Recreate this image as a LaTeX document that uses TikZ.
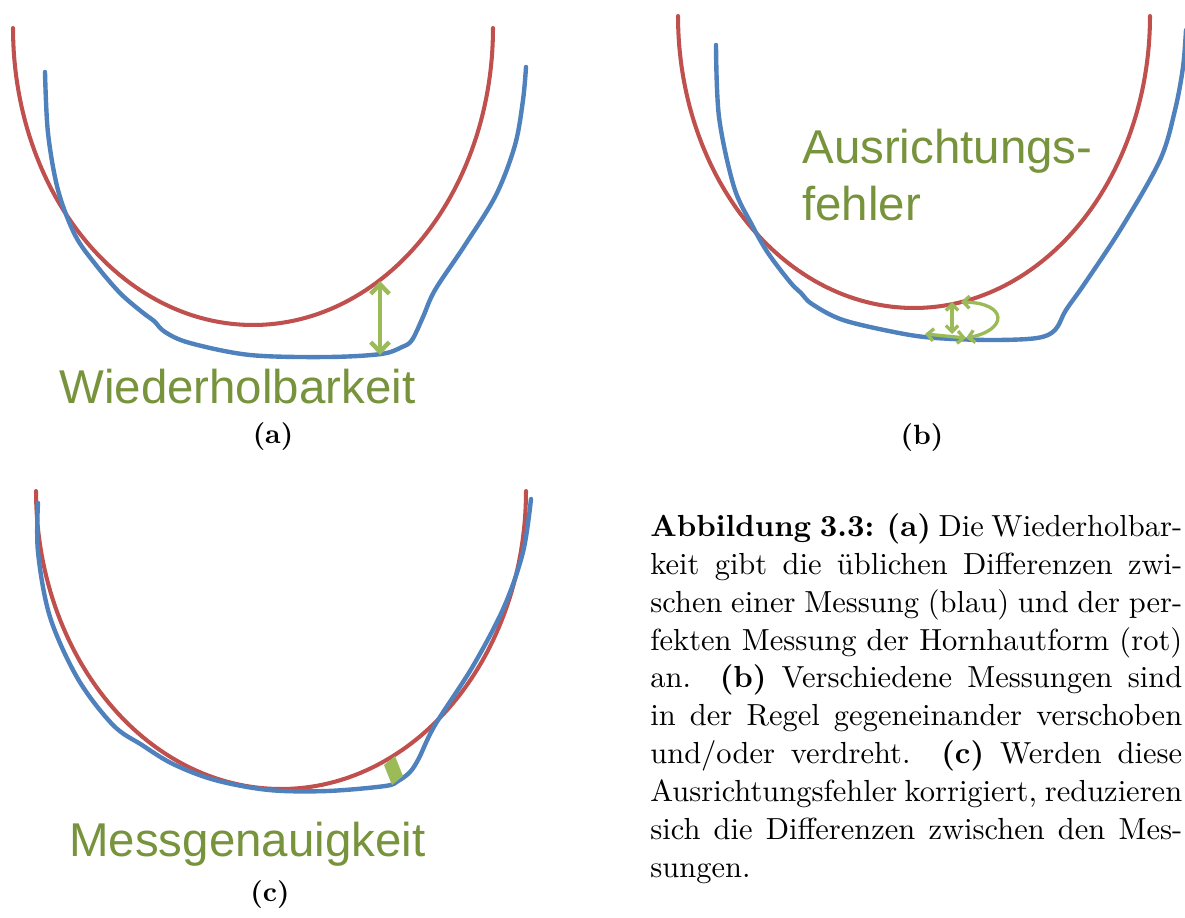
\documentclass[tikz,border=0pt]{standalone}
\usepackage{fontspec}
\usepackage{graphicx}
\usetikzlibrary{arrows.meta}
\newfontfamily\lblfont{Liberation Sans}
\definecolor{cred}{HTML}{C0504D}
\definecolor{cblue}{HTML}{4F81BD}
\definecolor{garr}{HTML}{9BBB59}
\definecolor{gtxt}{HTML}{77933C}
\newcommand\mycapline[1]{\scalebox{1.585}{\makebox[191pt][s]{#1}}}
\tikzset{
  redc/.style={draw=cred, line width=2.3pt, line cap=round},
  bluec/.style={draw=cblue, line width=2.5pt, line cap=round, line join=round},
  garrow/.style={draw=garr, line width=2.5pt, {Straight Barb[length=5.5pt,width=10.5pt]}-{Straight Barb[length=5.5pt,width=10.5pt]}},
  gsmall/.style={draw=garr, line width=1.9pt, {Straight Barb[length=3.5pt,width=7pt]}-{Straight Barb[length=3.5pt,width=7pt]}},
  glabel/.style={text=gtxt, font=\lblfont\fontsize{27}{33}\selectfont, inner sep=0pt, anchor=base west},
  capline/.style={anchor=base west, inner sep=0pt, font=\fontsize{10.95}{13.6}\selectfont},
  sublabel/.style={inner sep=0pt, font=\fontsize{10}{12}\selectfont\bfseries}
}
\begin{document}
\begin{tikzpicture}[x=0.02cm, y=-0.02cm]
\useasboundingbox (0,0) rectangle (1185,917);
\clip (0,0) rectangle (1185,917);
\fill[white] (0,0) rectangle (1185,917);

% ---------- panel (a)
\draw[redc] plot[domain=180:360, samples=120] ({253+240*cos(\x)},{28-297*sin(\x)});
\draw[bluec] plot[smooth, tension=0.55] coordinates {(45,72) (48,133) (58,190) (75,235) (96,265) (120,293) (142,312) (154,321) (165,332) (190,343) (250,355) (327,357) (381,354) (402,347) (412,340) (423,317) (435,290) (465,245) (496,195) (515,145) (523,100) (526,67)};
\coordinate (a1) at (380,281);
\coordinate (a2) at (380,355);
\draw[garrow] (a1) -- (a2);
\node[glabel] (wh) at (59,403) {Wiederholbarkeit};
\node[sublabel] (la) at (273,437) {\scalebox{1.585}{(a)}};

% ---------- panel (b)
\draw[redc] plot[domain=180:360, samples=120] ({914+236*cos(\x)},{16-292*sin(\x)});
\draw[bluec] plot[smooth, tension=0.55] coordinates {(716,45) (719,117) (734,187) (752,225) (768,253) (790,282) (801,293) (812,304) (843,320) (899,333) (936,338) (992,340) (1037,338) (1055,330) (1066,310) (1085,283) (1122,227) (1160,160) (1175,110) (1183,67) (1186,30)};
\coordinate (b1) at (952,302);
\coordinate (b2) at (952,334);
\coordinate (b3) at (925,334);
\coordinate (b4) at (966,338);
\coordinate (b5) at (961,302);
\draw[gsmall] (b1) -- (b2);
\draw[gsmall] (b3) -- (b4);
\draw[gsmall] (b5) .. controls (1008,303) and (1008,330) .. (b4);
\node[glabel] (au) at (802,163) {Ausrichtungs-};
\node[glabel] (fe) at (802,220) {fehler};
\node[sublabel] (lb) at (922,438) {\scalebox{1.585}{(b)}};

% ---------- panel (c)
\draw[redc] plot[domain=180:360, samples=120] ({281+245*cos(\x)},{491-298*sin(\x)});
\draw[bluec] plot[smooth, tension=0.55] coordinates {(38,503) (38,552) (50,617) (78,679) (113,725) (142,745) (173,764) (215,780) (269,790) (327,791) (385,786) (398,781) (410,772) (419,758) (435,725) (473,666) (504,607) (523,552) (531,499)};
\fill[garr] (384,765) -- (395,756) -- (403,776) -- (392,785) -- cycle;
\node[glabel] (mg) at (69,856) {Messgenauigkeit};
\node[sublabel] (lc) at (270,895) {\scalebox{1.585}{(c)}};

% ---------- caption
\node[capline] (c1) at (650,536) {\mycapline{\textbf{Abbildung 3.3:} \textbf{(a)} Die Wiederholbar-}};
\node[capline] (c2) at (650,574) {\mycapline{keit gibt die üblichen Differenzen zwi-}};
\node[capline] (c3) at (650,612) {\mycapline{schen einer Messung (blau) und der per-}};
\node[capline] (c4) at (650,650) {\mycapline{fekten Messung der Hornhautform (rot)}};
\node[capline] (c5) at (650,687) {\mycapline{an. \textbf{(b)} Verschiedene Messungen sind}};
\node[capline] (c6) at (650,725) {\mycapline{in der Regel gegeneinander verschoben}};
\node[capline] (c7) at (650,763) {\mycapline{und/oder verdreht. \textbf{(c)} Werden diese}};
\node[capline] (c8) at (650,801) {\mycapline{Ausrichtungsfehler korrigiert, reduzieren}};
\node[capline] (c9) at (650,839) {\mycapline{sich die Differenzen zwischen den Mes-}};
\node[capline] (c10) at (650,877) {\scalebox{1.585}{sungen.}};
\end{tikzpicture}
\end{document}
